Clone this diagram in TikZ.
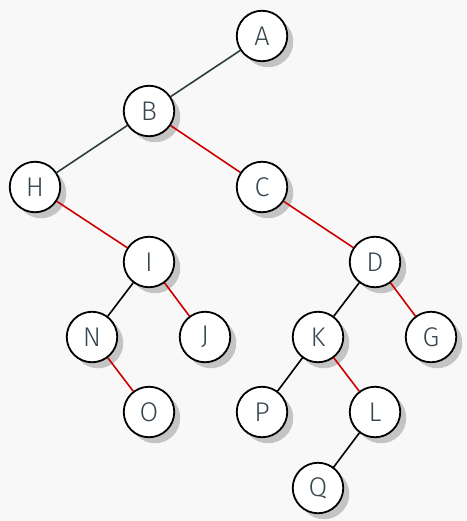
\documentclass[tikz,border=0pt]{standalone}
\usepackage{fontspec}
\setmainfont{Fira Sans Light}
\usetikzlibrary{shadows}
\definecolor{bg}{HTML}{F8F8F8}
\definecolor{slate}{HTML}{2F3F3F}
\definecolor{txt}{HTML}{37474F}
\definecolor{redl}{HTML}{CC0000}
\definecolor{shd}{HTML}{C4C4C4}
\tikzset{
  vtx/.style={circle, draw=black, line width=1.8pt, fill=white, minimum size=50.5pt, inner sep=0pt,
    font=\fontsize{27}{27}\selectfont, text=txt,
    drop shadow={shadow xshift=6pt, shadow yshift=-6pt, fill=shd, opacity=1}},
  dk/.style={draw=slate, line width=1.6pt},
  rd/.style={draw=redl, line width=1.6pt},
  bk/.style={draw=black, line width=1.6pt},
}
\begin{document}
\begin{tikzpicture}[x=1pt,y=-1pt]
\fill[bg] (0,0) rectangle (466,521);
\useasboundingbox (0,0) rectangle (466,521);
\node[vtx] (A) at (262,36) {A};
\node[vtx] (B) at (149,111) {B};
\node[vtx] (H) at (35,187) {H};
\node[vtx] (C) at (262,187) {C};
\node[vtx] (I) at (149,262) {I};
\node[vtx] (D) at (375,262) {D};
\node[vtx] (N) at (92,337) {N};
\node[vtx] (J) at (205,337) {J};
\node[vtx] (K) at (318,337) {K};
\node[vtx] (G) at (431,337) {G};
\node[vtx] (O) at (149,412) {O};
\node[vtx] (P) at (262,412) {P};
\node[vtx] (L) at (375,412) {L};
\node[vtx] (Q) at (318,488) {Q};
\draw[dk] (A) -- (B);
\draw[dk] (B) -- (H);
\draw[rd] (B) -- (C);
\draw[rd] (H) -- (I);
\draw[rd] (C) -- (D);
\draw[bk] (I) -- (N);
\draw[rd] (I) -- (J);
\draw[rd] (N) -- (O);
\draw[bk] (D) -- (K);
\draw[rd] (D) -- (G);
\draw[bk] (K) -- (P);
\draw[rd] (K) -- (L);
\draw[bk] (L) -- (Q);
\end{tikzpicture}
\end{document}
